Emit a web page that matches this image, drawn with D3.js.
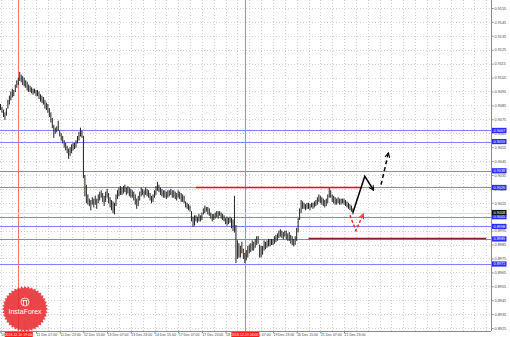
<!DOCTYPE html>
<html>
<head>
<meta charset="utf-8">
<script src="https://cdn.jsdelivr.net/npm/d3@7"></script>
<style>
body { margin: 0; background: #fff; }
svg { display: block; }
</style>
</head>
<body>
<svg id="chart"></svg>
<script>
// H1 bars, 10 Dec 2018 07:00 .. 24 Dec 2018 05:00
var highs = [
0.9086,0.9084,0.9082,0.9080,0.9083,0.9089,0.9092,0.9095,0.9097,0.9096,
0.9100,0.9103,0.9105,0.9109,0.9107,0.9106,0.9105,0.9103,0.9102,0.9100,
0.9099,0.9098,0.9097,0.9097,0.9096,0.9096,0.9095,0.9093,0.9092,0.9091,
0.9089,0.9087,0.9086,0.9083,0.9080,0.9076,0.9071,0.9069,0.9070,0.9074,
0.9067,0.9065,0.9063,0.9060,0.9058,0.9056,0.9054,0.9055,0.9057,0.9058,
0.9058,0.9060,0.9063,0.9066,0.9069,0.9067,0.9063,0.9035,0.9028,0.9021,
0.9018,0.9017,0.9019,0.9018,0.9020,0.9018,0.9021,0.9023,0.9024,0.9022,
0.9020,0.9023,0.9025,0.9022,0.9019,0.9017,0.9016,0.9015,0.9021,0.9024,
0.9026,0.9027,0.9026,0.9027,0.9028,0.9026,0.9027,0.9026,0.9025,0.9024,
0.9023,0.9021,0.9018,0.9020,0.9023,0.9026,0.9025,0.9024,0.9026,0.9025,
0.9024,0.9022,0.9020,0.9021,0.9024,0.9027,0.9030,0.9028,0.9026,0.9025,
0.9024,0.9024,0.9023,0.9024,0.9024,0.9025,0.9024,0.9024,0.9023,0.9022,
0.9024,0.9023,0.9022,0.9021,0.9020,0.9016,0.9015,0.9014,0.9013,0.9009,
0.9005,0.9006,0.9006,0.9005,0.9007,0.9006,0.9008,0.9011,0.9013,0.9012,
0.9012,0.9011,0.9008,0.9007,0.9007,0.9008,0.9009,0.9009,0.9009,0.9008,
0.9007,0.9006,0.9004,0.9005,0.9004,0.9005,0.9004,0.9003,0.9020,0.8999,
0.8988,0.8986,0.8984,0.8987,0.8982,0.8979,0.8981,0.8984,0.8985,0.8986,
0.8988,0.8987,0.8989,0.8991,0.8991,0.8985,0.8984,0.8984,0.8988,0.8987,
0.8988,0.8989,0.8989,0.8989,0.8989,0.8991,0.8992,0.8993,0.8995,0.8996,
0.8995,0.8994,0.8995,0.8995,0.8993,0.8994,0.8992,0.8991,0.8989,0.8991,
0.8997,0.9004,0.9011,0.9017,0.9016,0.9015,0.9014,0.9015,0.9015,0.9014,
0.9015,0.9015,0.9016,0.9017,0.9019,0.9021,0.9020,0.9019,0.9018,0.9017,
0.9018,0.9021,0.9026,0.9024,0.9021,0.9020,0.9019,0.9018,0.9019,0.9018,
0.9018,0.9018,0.9018,0.9017,0.9016,0.9015,0.9014,0.9013,0.9011
];
var lows = [
0.9082,0.9080,0.9077,0.9075,0.9078,0.9083,0.9086,0.9089,0.9091,0.9092,
0.9095,0.9098,0.9100,0.9103,0.9102,0.9100,0.9099,0.9098,0.9096,0.9095,
0.9095,0.9094,0.9093,0.9094,0.9092,0.9092,0.9090,0.9088,0.9087,0.9086,
0.9083,0.9082,0.9080,0.9077,0.9073,0.9069,0.9062,0.9065,0.9066,0.9067,
0.9063,0.9060,0.9058,0.9055,0.9053,0.9051,0.9047,0.9049,0.9051,0.9053,
0.9054,0.9055,0.9058,0.9060,0.9063,0.9062,0.9033,0.9020,0.9015,0.9014,
0.9013,0.9010,0.9014,0.9012,0.9014,0.9011,0.9015,0.9017,0.9019,0.9016,
0.9013,0.9016,0.9019,0.9015,0.9012,0.9010,0.9008,0.9007,0.9013,0.9018,
0.9020,0.9021,0.9021,0.9022,0.9023,0.9021,0.9022,0.9020,0.9019,0.9019,
0.9017,0.9014,0.9011,0.9013,0.9017,0.9020,0.9021,0.9019,0.9021,0.9020,
0.9019,0.9017,0.9015,0.9016,0.9019,0.9021,0.9024,0.9023,0.9021,0.9020,
0.9019,0.9019,0.9018,0.9019,0.9020,0.9021,0.9019,0.9019,0.9018,0.9017,
0.9019,0.9018,0.9016,0.9016,0.9015,0.9012,0.9011,0.9010,0.9009,0.9002,
0.8998,0.8999,0.9002,0.9001,0.9002,0.9002,0.9003,0.9007,0.9008,0.9009,
0.9007,0.9006,0.9004,0.9002,0.9003,0.9004,0.9005,0.9004,0.9006,0.9004,
0.9003,0.9002,0.9000,0.8999,0.9000,0.9001,0.8997,0.8995,0.8994,0.8972,
0.8975,0.8976,0.8976,0.8979,0.8975,0.8972,0.8974,0.8976,0.8979,0.8980,
0.8981,0.8981,0.8983,0.8985,0.8986,0.8976,0.8976,0.8978,0.8981,0.8982,
0.8983,0.8984,0.8984,0.8985,0.8985,0.8986,0.8987,0.8988,0.8990,0.8991,
0.8990,0.8989,0.8991,0.8989,0.8988,0.8988,0.8986,0.8985,0.8984,0.8985,
0.8988,0.8994,0.9003,0.9008,0.9011,0.9011,0.9010,0.9011,0.9011,0.9010,
0.9012,0.9011,0.9012,0.9013,0.9014,0.9016,0.9015,0.9014,0.9013,0.9012,
0.9013,0.9015,0.9019,0.9019,0.9016,0.9015,0.9014,0.9014,0.9015,0.9014,
0.9014,0.9015,0.9014,0.9013,0.9012,0.9011,0.9010,0.9009,0.9007
];

var priceTicks = [0.8925,0.8935,0.8945,0.8955,0.8965,0.8975,0.8985,0.8995,0.9005,0.9015,0.9025,0.9035,
                  0.9045,0.9055,0.9065,0.9075,0.9085,0.9095,0.9105,0.9115,0.9125,0.9135,0.9145,0.9155];

var timeTickBars = [0,24,40,56,72,88,104,120,136,152,168,184,200,216,232];
var timeTickLabels = ["10 Dec 2018","11 Dec 07:00","11 Dec 23:00","12 Dec 15:00","13 Dec 07:00","13 Dec 23:00",
                      "14 Dec 15:00","17 Dec 07:00","17 Dec 23:00","18 Dec 15:00","19 Dec 07:00","19 Dec 23:00",
                      "20 Dec 15:00","21 Dec 07:00","21 Dec 23:00"];

var levelPrices = [0.9067,0.9059,0.9038,0.9026,0.9005,0.8998,0.8989,0.8971];
var currentPrice = 0.9008;

var markerBars = [12,165];
var markerLabels = ["2018.12.10 19:00","2018.12.19 04:00"];

var redLine = {from:132, to:244, price:0.9026};
var darkRedLine = {from:208, to:328, price:0.8990};

var arrowMain = [[238,0.9008],[246,0.9034],[252,0.9024]];
var arrowDash = [[257,0.9028],[262,0.9051]];
var arrowRed = [[236,0.9006],[240,0.8995],[245,0.9007]];

var initChart = function()
{
    var screen = {width:510, height:337};
    var plot = {right:491, bottom:331};

    var svg = d3.select("#chart")
        .attr("width", screen.width)
        .attr("height", screen.height);

    var xScale = d3.scaleLinear()
        .domain([0, 331])
        .range([0.5, 0.5 + 331*1.4808]);

    var yScale = d3.scaleLinear()
        .domain([0.8925, 0.9155])
        .range([328, 8]);

    var snap = function(v){ return Math.round(v) + 0.5; };

    var defs = svg.append("defs");
    var addHead = function(id, color)
    {
        defs.append("marker")
            .attr("id", id)
            .attr("viewBox", "0 0 10 10")
            .attr("refX", 9).attr("refY", 5)
            .attr("markerWidth", 6).attr("markerHeight", 6)
            .attr("markerUnits", "userSpaceOnUse")
            .attr("orient", "auto")
            .append("path")
            .attr("d", "M1,1 L9,5 L1,9")
            .attr("fill", "none")
            .attr("stroke", color)
            .attr("stroke-width", 1.6);
    }
    addHead("headBlack", "#000");
    addHead("headRed", "#ff2222");

    // grid
    var grid = svg.append("g").attr("id", "grid");
    grid.selectAll("line.h")
        .data(priceTicks)
        .enter()
        .append("line")
        .attr("x1", 0).attr("x2", plot.right)
        .attr("y1", function(d){ return snap(yScale(d)); })
        .attr("y2", function(d){ return snap(yScale(d)); })
        .attr("stroke", "#d2d2d2")
        .attr("stroke-dasharray", "1,2");
    grid.selectAll("line.v")
        .data(d3.range(0, 332, 8))
        .enter()
        .append("line")
        .attr("x1", function(d){ return snap(xScale(d)); })
        .attr("x2", function(d){ return snap(xScale(d)); })
        .attr("y1", 0).attr("y2", plot.bottom)
        .attr("stroke", "#d2d2d2")
        .attr("stroke-dasharray", "1,2");

    // vertical markers
    svg.append("g")
        .selectAll("line")
        .data(markerBars)
        .enter()
        .append("line")
        .attr("x1", function(d){ return snap(xScale(d)); })
        .attr("x2", function(d){ return snap(xScale(d)); })
        .attr("y1", 0).attr("y2", plot.bottom)
        .attr("stroke", "#ff6f6f");

    // horizontal levels
    svg.append("g")
        .selectAll("line")
        .data(levelPrices)
        .enter()
        .append("line")
        .attr("x1", 0).attr("x2", plot.right)
        .attr("y1", function(d){ return snap(yScale(d)); })
        .attr("y2", function(d){ return snap(yScale(d)); })
        .attr("stroke", "#8080ff");

    svg.append("line")
        .attr("x1", 0).attr("x2", plot.right)
        .attr("y1", snap(yScale(currentPrice)))
        .attr("y2", snap(yScale(currentPrice)))
        .attr("stroke", "#dcdcdc");

    // price bars
    svg.append("g")
        .selectAll("line")
        .data(highs)
        .enter()
        .append("line")
        .attr("x1", function(d, i){ return xScale(i); })
        .attr("x2", function(d, i){ return xScale(i); })
        .attr("y1", function(d){ return yScale(d); })
        .attr("y2", function(d, i){ return yScale(lows[i]) + 0.5; })
        .attr("stroke", "#222")
        .attr("stroke-width", 1);

    // trend lines
    svg.append("line")
        .attr("x1", xScale(redLine.from)).attr("x2", xScale(redLine.to))
        .attr("y1", snap(yScale(redLine.price))).attr("y2", snap(yScale(redLine.price)))
        .attr("stroke", "#ff0000").attr("stroke-width", 1.6);
    svg.append("line")
        .attr("x1", xScale(darkRedLine.from)).attr("x2", xScale(darkRedLine.to))
        .attr("y1", snap(yScale(darkRedLine.price))).attr("y2", snap(yScale(darkRedLine.price)))
        .attr("stroke", "#8e1a24").attr("stroke-width", 1.6);

    // arrows
    var line = d3.line()
        .x(function(d){ return xScale(d[0]); })
        .y(function(d){ return yScale(d[1]); });
    svg.append("path")
        .attr("d", line(arrowMain))
        .attr("fill", "none").attr("stroke", "#000").attr("stroke-width", 1.5)
        .attr("marker-end", "url(#headBlack)");
    svg.append("path")
        .attr("d", line(arrowDash))
        .attr("fill", "none").attr("stroke", "#000").attr("stroke-width", 1.5)
        .attr("stroke-dasharray", "4,3")
        .attr("marker-end", "url(#headBlack)");
    svg.append("path")
        .attr("d", line(arrowRed))
        .attr("fill", "none").attr("stroke", "#ff2222").attr("stroke-width", 1.5)
        .attr("stroke-dasharray", "3,2")
        .attr("marker-end", "url(#headRed)");

    // axes
    var yAxis = d3.axisRight(yScale)
        .tickValues(priceTicks)
        .tickFormat(d3.format(".4f"))
        .tickSize(2);
    var yG = svg.append("g")
        .attr("transform", "translate(" + (plot.right + 0.5) + ",0)")
        .call(yAxis);
    yG.select(".domain").attr("stroke", "#888").attr("d", "M0,0V" + plot.bottom);
    yG.selectAll(".tick line").attr("stroke", "#888");
    yG.selectAll("text")
        .attr("x", 3)
        .attr("font-family", "Liberation Sans, Arial, sans-serif")
        .attr("font-size", "3.8px")
        .attr("fill", "#444");

    var xAxis = d3.axisBottom(xScale)
        .tickValues(timeTickBars)
        .tickFormat(function(d, i){ return timeTickLabels[i]; })
        .tickSize(2);
    var xG = svg.append("g")
        .attr("transform", "translate(0," + (plot.bottom + 0.5) + ")")
        .call(xAxis);
    xG.select(".domain").attr("stroke", "#888").attr("d", "M0,0H" + plot.right);
    xG.selectAll(".tick line").attr("stroke", "#888");
    xG.selectAll("text")
        .attr("y", 2)
        .attr("dy", "0.71em")
        .attr("text-anchor", "start")
        .attr("font-family", "Liberation Sans, Arial, sans-serif")
        .attr("font-size", "3.5px")
        .attr("fill", "#444");

    // level price tags
    var tags = svg.append("g")
        .selectAll("g")
        .data(levelPrices)
        .enter()
        .append("g")
        .attr("transform", function(d){ return "translate(" + (plot.right + 1) + "," + yScale(d) + ")"; });
    tags.append("rect")
        .attr("x", 0).attr("y", -2.6).attr("width", 14.5).attr("height", 5.2)
        .attr("fill", "#2a2aff");
    tags.append("text")
        .attr("x", 1.5).attr("dy", "0.35em")
        .attr("font-family", "Liberation Sans, Arial, sans-serif")
        .attr("font-size", "3.8px")
        .attr("fill", "#fff")
        .text(function(d){ return d3.format(".4f")(d); });

    var cur = svg.append("g")
        .attr("transform", "translate(" + (plot.right + 1) + "," + yScale(currentPrice) + ")");
    cur.append("rect")
        .attr("x", 0).attr("y", -2.6).attr("width", 14.5).attr("height", 5.2)
        .attr("fill", "#111");
    cur.append("text")
        .attr("x", 1.5).attr("dy", "0.35em")
        .attr("font-family", "Liberation Sans, Arial, sans-serif")
        .attr("font-size", "3.8px")
        .attr("fill", "#fff")
        .text(d3.format(".4f")(currentPrice));

    // red time tags for the vertical markers
    var mt = svg.append("g")
        .selectAll("g")
        .data(markerBars)
        .enter()
        .append("g")
        .attr("transform", function(d){ return "translate(" + xScale(d) + "," + (plot.bottom + 1) + ")"; });
    mt.append("rect")
        .attr("x", -13.5).attr("y", 0).attr("width", 28).attr("height", 5.5)
        .attr("fill", "#ff1a1a");
    mt.append("text")
        .attr("y", 2.8).attr("dy", "0.35em")
        .attr("text-anchor", "middle")
        .attr("font-family", "Liberation Sans, Arial, sans-serif")
        .attr("font-size", "3.5px")
        .attr("fill", "#fff")
        .text(function(d, i){ return markerLabels[i]; });

    // InstaForex seal
    var logo = svg.append("g").attr("transform", "translate(25,309)");
    var teeth = d3.range(0, 80).map(function(k){
        var a = k/80*Math.PI*2;
        var r = (k % 2 == 0) ? 23 : 20.8;
        return [Math.cos(a)*r, Math.sin(a)*r];
    });
    logo.append("polygon")
        .attr("points", teeth.map(function(p){ return p.join(","); }).join(" "))
        .attr("fill", "#e8262b")
        .attr("fill-opacity", 0.86);
    logo.append("circle")
        .attr("cx", 0).attr("cy", -7).attr("r", 4)
        .attr("fill", "none").attr("stroke", "#fff").attr("stroke-width", 0.8);
    logo.append("path")
        .attr("d", "M-1.5,-9 L-1.5,-4 M1.5,-9 L1.5,-4 M-2.5,-8.5 L2.5,-8.5")
        .attr("stroke", "#fff").attr("stroke-width", 0.8);
    logo.append("text")
        .attr("x", 0).attr("y", 5)
        .attr("text-anchor", "middle")
        .attr("font-family", "Liberation Sans, Arial, sans-serif")
        .attr("font-size", "7px")
        .attr("fill", "#fff")
        .text("InstaForex");
}

initChart();
</script>
</body>
</html>
